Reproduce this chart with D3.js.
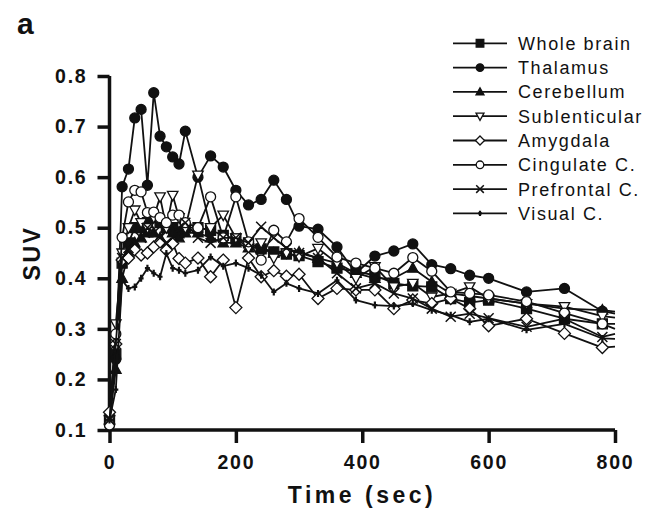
<!DOCTYPE html>
<html>
<head>
<meta charset="utf-8">
<script src="https://cdn.jsdelivr.net/npm/d3@7"></script>
<style>
  body { margin: 0; background: #fff; }
  svg text { font-family: "Liberation Sans", Arial, sans-serif; fill: #111; }
</style>
</head>
<body>
<svg id="chart" width="649" height="514"></svg>
<script>
// time points (sec); the last one only continues the line, no marker
var times = [0,10,20,30,40,50,60,70,80,90,100,110,120,140,160,180,200,220,240,260,280,300,330,360,390,420,450,480,510,540,570,600,660,720,780,800];

var wholeBrain = [0.12,0.25,0.43,0.47,0.50,0.50,0.51,0.52,0.51,0.50,0.50,0.49,0.50,0.50,0.495,0.485,0.478,0.47,0.458,0.452,0.448,0.445,0.433,0.42,0.413,0.406,0.39,0.385,0.383,0.36,0.352,0.357,0.34,0.32,0.31,0.31];
var thalamus = [0.11,0.24,0.581,0.616,0.717,0.734,0.584,0.767,0.681,0.660,0.640,0.626,0.691,0.60,0.642,0.620,0.574,0.545,0.556,0.594,0.556,0.503,0.497,0.462,0.41,0.444,0.454,0.468,0.427,0.419,0.406,0.400,0.373,0.380,0.335,0.33];
var cerebellum = [0.12,0.22,0.40,0.45,0.47,0.48,0.49,0.49,0.48,0.50,0.49,0.48,0.49,0.49,0.48,0.47,0.47,0.46,0.46,0.45,0.455,0.452,0.44,0.43,0.41,0.40,0.40,0.42,0.393,0.37,0.365,0.36,0.35,0.34,0.337,0.334];
var sublenticular = [0.12,0.31,0.45,0.50,0.535,0.51,0.50,0.52,0.561,0.50,0.564,0.52,0.50,0.604,0.50,0.525,0.48,0.46,0.47,0.44,0.45,0.443,0.459,0.43,0.40,0.423,0.383,0.39,0.363,0.37,0.383,0.36,0.35,0.344,0.325,0.322];
var amygdala = [0.135,0.27,0.436,0.44,0.456,0.446,0.45,0.462,0.472,0.456,0.469,0.439,0.43,0.44,0.403,0.436,0.342,0.44,0.403,0.415,0.404,0.408,0.36,0.38,0.377,0.377,0.34,0.357,0.35,0.36,0.34,0.306,0.32,0.291,0.263,0.265];
var cingulate = [0.11,0.29,0.481,0.551,0.574,0.571,0.53,0.531,0.52,0.51,0.525,0.525,0.51,0.50,0.561,0.48,0.561,0.472,0.436,0.495,0.472,0.518,0.481,0.442,0.43,0.42,0.41,0.441,0.414,0.373,0.37,0.367,0.354,0.331,0.31,0.30];
var prefrontal = [0.12,0.27,0.44,0.46,0.47,0.48,0.50,0.49,0.48,0.47,0.48,0.50,0.51,0.48,0.47,0.48,0.48,0.47,0.502,0.48,0.46,0.45,0.44,0.41,0.38,0.39,0.37,0.36,0.34,0.324,0.33,0.321,0.304,0.32,0.284,0.29];
var visual = [0.12,0.18,0.396,0.38,0.383,0.40,0.42,0.41,0.403,0.449,0.42,0.416,0.41,0.416,0.442,0.424,0.43,0.42,0.406,0.373,0.39,0.38,0.37,0.396,0.357,0.347,0.345,0.35,0.337,0.327,0.314,0.32,0.298,0.31,0.281,0.28];

var seriesNames = ["Whole brain","Thalamus","Cerebellum","Sublenticular","Amygdala","Cingulate C.","Prefrontal C.","Visual C."];
var seriesValues = [wholeBrain, thalamus, cerebellum, sublenticular, amygdala, cingulate, prefrontal, visual];
var seriesMarkers = ["square","circleFilled","triangleUp","triangleDown","diamond","circleOpen","cross","plus"];

var xTicks = [0,200,400,600,800];
var yTicks = [0.1,0.2,0.3,0.4,0.5,0.6,0.7,0.8];

var svg = d3.select("#chart");
var x = d3.scaleLinear().domain([0, 800]).range([109.5, 615]);
var y = d3.scaleLinear().domain([0.1, 0.8]).range([430, 76]);

// marker path for a given kind, s = half size
function markerPath(kind, s) {
    switch (kind) {
        case "square": return "M" + (-s) + "," + (-s) + "H" + s + "V" + s + "H" + (-s) + "Z";
        case "triangleUp": return "M0," + (-s * 1.1) + "L" + s * 1.05 + "," + s * 0.8 + "L" + (-s * 1.05) + "," + s * 0.8 + "Z";
        case "triangleDown": return "M0," + s * 1.1 + "L" + s * 1.05 + "," + (-s * 0.8) + "L" + (-s * 1.05) + "," + (-s * 0.8) + "Z";
        case "diamond": return "M0," + (-s * 1.2) + "L" + s * 1.2 + ",0L0," + s * 1.2 + "L" + (-s * 1.2) + ",0Z";
        case "cross": return "M" + (-s) + "," + (-s) + "L" + s + "," + s + "M" + s + "," + (-s) + "L" + (-s) + "," + s;
        case "plus": return "M0," + (-s * 0.7) + "V" + s * 0.7 + "M" + (-s * 0.5) + ",0H" + s * 0.5;
    }
    return null;
}

function drawMarker(g, kind, cx, cy, s) {
    if (kind === "circleFilled" || kind === "circleOpen") {
        g.append("circle").attr("cx", cx).attr("cy", cy).attr("r", s)
            .attr("fill", kind === "circleFilled" ? "#111" : "#fff")
            .attr("stroke", "#111").attr("stroke-width", 1.3);
        return;
    }
    var filled = (kind === "square" || kind === "triangleUp");
    var p = g.append("path").attr("d", markerPath(kind, s))
        .attr("transform", "translate(" + cx + "," + cy + ")")
        .attr("stroke", "#111");
    if (kind === "cross" || kind === "plus") {
        p.attr("fill", "none").attr("stroke-width", kind === "plus" ? 2.2 : 1.5);
    } else {
        p.attr("fill", filled ? "#111" : "#fff").attr("stroke-width", 1.3);
    }
}

// axes
var yAxis = d3.axisLeft(y).tickValues(yTicks).tickFormat(d3.format(".1f")).tickSize(12).tickSizeOuter(0).tickPadding(10);
var xAxis = d3.axisBottom(x).tickValues(xTicks).tickFormat(d3.format("d")).tickSize(13).tickSizeOuter(0).tickPadding(12);

var gy = svg.append("g").attr("transform", "translate(109.5,0)").call(yAxis);
var gx = svg.append("g").attr("transform", "translate(0,430)").call(xAxis);
[gx, gy].forEach(function (g) {
    g.select(".domain").attr("stroke", "#111").attr("stroke-width", 3.5);
    g.selectAll(".tick line").attr("stroke", "#111").attr("stroke-width", 3.5);
    g.selectAll(".tick text").attr("font-size", "19.5px").attr("font-weight", "bold")
        .attr("fill", "#111").style("font-family", '"Liberation Sans", Arial, sans-serif')
        .style("letter-spacing", "1.8px");
});
gy.select(".domain").attr("d", "M0," + y(0.8) + "V" + (y(0.1) + 1.5));
gx.select(".domain").attr("d", "M" + (x(0) - 1.5) + ",0H" + x(800));

// series
var line = d3.line().x(function (d) { return x(d[0]); }).y(function (d) { return y(d[1]); });
seriesValues.forEach(function (vals, i) {
    var pts = times.map(function (t, j) { return [t, vals[j]]; });
    var g = svg.append("g");
    g.append("path").attr("d", line(pts)).attr("fill", "none")
        .attr("stroke", "#111").attr("stroke-width", 1.8).attr("stroke-linejoin", "round");
    pts.slice(0, pts.length - 1).forEach(function (p) {
        drawMarker(g, seriesMarkers[i], x(p[0]), y(p[1]), 5);
    });
});

// legend
var leg = svg.append("g");
seriesNames.forEach(function (name, i) {
    var ly = 43.3 + i * 24.3;
    leg.append("line").attr("x1", 453).attr("x2", 507).attr("y1", ly).attr("y2", ly)
        .attr("stroke", "#111").attr("stroke-width", 1.8);
    drawMarker(leg, seriesMarkers[i], 480, ly, 3.8);
    leg.append("text").attr("x", 518).attr("y", ly + 6.5).text(name)
        .attr("font-size", "18px").style("letter-spacing", "1.6px");
});

// titles
svg.append("text").attr("x", 17).attr("y", 34).text("a")
    .attr("font-size", "30px").attr("font-weight", "bold");
svg.append("text").attr("transform", "translate(40,253) rotate(-90)")
    .attr("text-anchor", "middle").text("SUV")
    .attr("font-size", "23px").attr("font-weight", "bold").style("letter-spacing", "2.5px");
svg.append("text").attr("x", 362).attr("y", 503).attr("text-anchor", "middle")
    .text("Time (sec)").attr("font-size", "23px").attr("font-weight", "bold")
    .style("letter-spacing", "3.5px");
</script>
</body>
</html>
